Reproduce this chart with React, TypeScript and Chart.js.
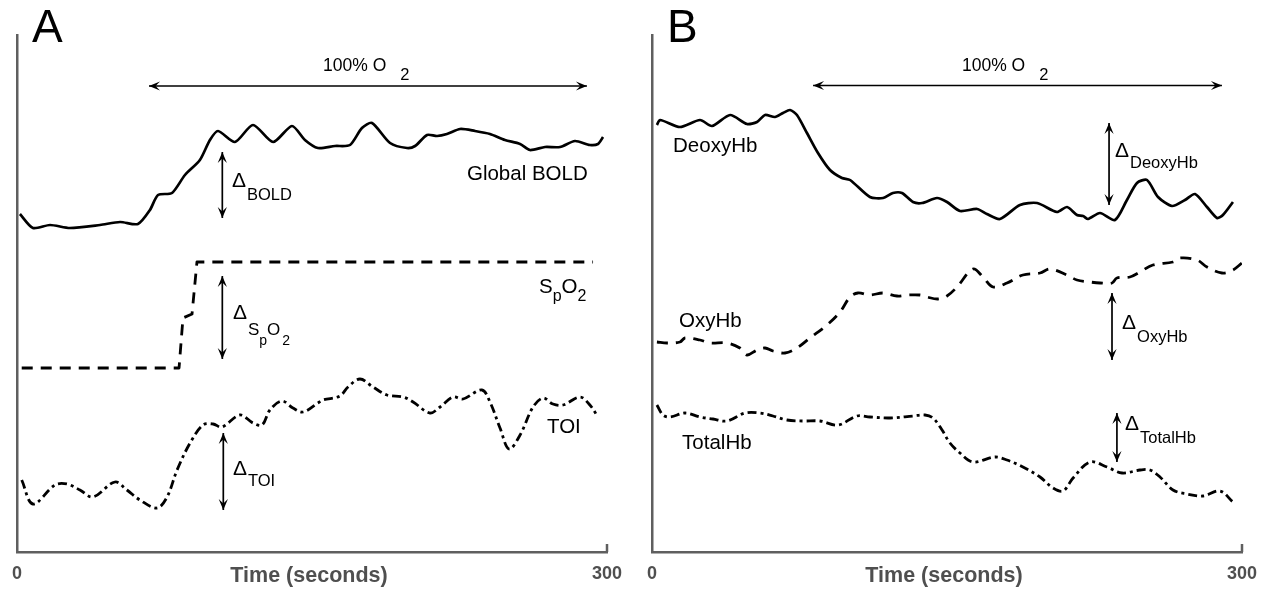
import React, { useEffect, useRef } from "react";
import { Chart, registerables } from "chart.js";

Chart.register(...registerables);

// ---------------- data (time in seconds, signal in arbitrary units) ----------------
const xTicks = [0, 300];

// Panel A
const boldT = [1.5, 8.1, 16.8, 26.9, 42.2, 52.4, 61.5, 67.6, 71.7, 78.8, 85.4, 93.0, 98.1, 102.2, 110.8, 120.0, 130.2, 139.8, 146.4, 153.0, 161.7, 169.3, 175.4, 180.5, 189.7, 198.3, 202.4, 208.5, 213.6, 218.6, 225.3, 232.9, 240.5, 248.1, 255.8, 260.8, 268.5, 276.1, 283.7, 291.3, 295.4, 298.0];
const boldV = [338, 324, 327, 324, 327, 330, 328, 342, 357, 359, 377, 392, 412, 421, 410, 427, 410, 426, 412, 404, 406, 407, 424, 429, 409, 404, 406, 417, 416, 418, 423, 421, 418, 412, 408, 402, 405, 405, 411, 407, 408, 415];

const spo2T = [2.4, 82.4, 84.4, 89.0, 91.5, 292.9];
const spo2V = [184, 184, 234, 238, 290, 290];

const toiT = [2.4, 8.1, 19.3, 25.4, 32.0, 38.6, 49.8, 55.9, 62.5, 71.2, 76.3, 81.4, 88.0, 94.6, 99.7, 104.2, 113.4, 120.0, 124.6, 128.6, 134.7, 140.3, 145.4, 153.0, 155.6, 164.2, 168.3, 174.4, 181.0, 188.1, 196.3, 201.4, 210.0, 215.1, 221.7, 226.8, 236.4, 240.5, 245.6, 250.2, 255.8, 262.4, 267.5, 272.5, 277.6, 286.3, 291.3, 295.4];
const toiV = [72, 48, 67, 68, 62, 55, 70, 62, 52, 44, 55, 82, 109, 127, 128, 125, 137, 129, 127, 142, 151, 144, 140, 149, 152, 156, 165, 173, 165, 157, 155, 150, 139, 145, 155, 153, 162, 150, 124, 103, 117, 145, 154, 148, 147, 155, 147, 135];

// Panel B
const deoxyT = [2.5, 4.1, 14.2, 24.4, 30.5, 39.7, 48.3, 53.4, 57.5, 62.5, 66.6, 70.2, 73.7, 78.8, 84.4, 90.5, 96.6, 100.7, 110.8, 117.5, 122.5, 127.1, 132.7, 137.3, 144.9, 150.0, 156.6, 165.3, 170.3, 176.9, 187.1, 195.8, 205.9, 211.0, 216.1, 219.2, 221.7, 227.8, 235.4, 241.5, 246.6, 251.7, 257.3, 264.4, 271.0, 276.1, 282.2, 287.3, 290.3, 295.4];
const deoxyV = [427, 432, 425, 432, 426, 437, 428, 430, 437, 435, 439, 442, 437, 419, 399, 382, 374, 372, 355, 354, 359, 359, 350, 349, 354, 350, 341, 343, 338, 333, 347, 349, 340, 345, 337, 336, 333, 339, 332, 352, 369, 372, 355, 346, 352, 358, 345, 334, 337, 350];

const oxyT = [2.5, 7.6, 14.2, 16.8, 24.4, 29.5, 38.1, 44.7, 48.3, 53.4, 57.5, 61.5, 67.6, 73.7, 80.3, 89.0, 95.6, 100.7, 104.7, 110.8, 117.5, 124.6, 130.2, 136.3, 139.8, 145.4, 150.0, 155.1, 163.2, 168.3, 173.4, 180.5, 188.6, 197.3, 202.4, 211.0, 216.1, 222.7, 227.8, 233.9, 236.4, 243.0, 248.1, 254.7, 264.9, 268.5, 277.1, 282.2, 289.8, 295.4, 300];
const oxyV = [210, 209, 210, 214, 212, 209, 209, 204, 197, 202, 204, 201, 199, 204, 214, 227, 240, 255, 259, 257, 259, 256, 257, 257, 255, 253, 256, 265, 283, 275, 265, 269, 277, 279, 283, 277, 272, 270, 269, 269, 274, 275, 280, 287, 290, 294, 292, 285, 279, 282, 289];

const totalT = [2.5, 5.6, 9.2, 16.8, 24.4, 31.0, 38.1, 47.3, 54.9, 61.5, 68.6, 76.8, 85.4, 94.6, 104.2, 110.8, 121.0, 132.7, 138.8, 142.9, 147.5, 151.5, 156.6, 163.2, 174.4, 180.5, 188.6, 197.3, 203.9, 209.0, 214.1, 222.7, 231.4, 239.0, 248.1, 253.2, 258.3, 264.9, 272.0, 280.2, 288.8, 295.4];
const totalV = [147, 137, 135, 139, 135, 133, 131, 139, 139, 136, 132, 131, 131, 127, 136, 135, 134, 136, 137, 134, 122, 109, 99, 90, 95, 92, 85, 75, 64, 61, 74, 90, 85, 79, 82, 82, 75, 62, 58, 56, 61, 50];

// ---------------- styling ----------------
const FONT = '"Liberation Sans", Arial, Helvetica, sans-serif';
const AXIS_GREY = "#5f5f5f";
const LABEL_GREY = "#4f4f4f";
const DASH = [11, 8];
const DASH_DOT = [9, 4, 3, 4];

type Seg = { s: string; size: number; dy?: number; gap?: number };
type TextNote = { x: number; y: number; segs: Seg[] };
type ArrowNote = { x1: number; y1: number; x2: number; y2: number; lw: number };

const O2_SEGS: Seg[] = [
  { s: "100% O", size: 17.5 },
  { s: "2", size: 16.5, dy: 9, gap: 14 },
];

const arrowsA: ArrowNote[] = [
  { x1: 67.1, y1: 466, x2: 289.8, y2: 466, lw: 1.4 },
  { x1: 104.4, y1: 400, x2: 104.4, y2: 334, lw: 1.7 },
  { x1: 104.4, y1: 276, x2: 104.4, y2: 193, lw: 1.7 },
  { x1: 104.9, y1: 119, x2: 104.9, y2: 42, lw: 1.7 },
];
const notesA: TextNote[] = [
  { x: 155.6, y: 481, segs: O2_SEGS },
  { x: 228.8, y: 372, segs: [{ s: "Global BOLD", size: 20.5 }] },
  {
    x: 265.4,
    y: 259,
    segs: [
      { s: "S", size: 20.5 },
      { s: "p", size: 16, dy: 8 },
      { s: "O", size: 20.5 },
      { s: "2", size: 16, dy: 8 },
    ],
  },
  { x: 269.5, y: 119, segs: [{ s: "TOI", size: 20.5 }] },
  { x: 109.3, y: 365, segs: [{ s: "Δ", size: 21 }, { s: "BOLD", size: 16.5, dy: 13, gap: 1 }] },
  {
    x: 109.8,
    y: 233,
    segs: [
      { s: "Δ", size: 21 },
      { s: "S", size: 17, dy: 16, gap: 1 },
      { s: "p", size: 14, dy: 26 },
      { s: "O", size: 17, dy: 16 },
      { s: "2", size: 14, dy: 26, gap: 2 },
    ],
  },
  { x: 109.8, y: 77, segs: [{ s: "Δ", size: 21 }, { s: "TOI", size: 16.5, dy: 11, gap: 1 }] },
];

const arrowsB: ArrowNote[] = [
  { x1: 81.9, y1: 466.5, x2: 289.8, y2: 466.5, lw: 1.4 },
  { x1: 232.4, y1: 429, x2: 232.4, y2: 347, lw: 1.7 },
  { x1: 233.9, y1: 259, x2: 233.9, y2: 192, lw: 1.7 },
  { x1: 236.4, y1: 139, x2: 236.4, y2: 90, lw: 1.7 },
];
const notesB: TextNote[] = [
  { x: 157.6, y: 481, segs: O2_SEGS },
  { x: 10.7, y: 400, segs: [{ s: "DeoxyHb", size: 20.5 }] },
  { x: 13.7, y: 225, segs: [{ s: "OxyHb", size: 20.5 }] },
  { x: 15.3, y: 103, segs: [{ s: "TotalHb", size: 20.5 }] },
  { x: 235.4, y: 395, segs: [{ s: "Δ", size: 21 }, { s: "DeoxyHb", size: 16.5, dy: 11, gap: 1 }] },
  { x: 239.0, y: 223, segs: [{ s: "Δ", size: 21 }, { s: "OxyHb", size: 16.5, dy: 13, gap: 1 }] },
  { x: 240.5, y: 122, segs: [{ s: "Δ", size: 21 }, { s: "TotalHb", size: 16.5, dy: 13, gap: 1 }] },
];

function drawArrow(ctx: CanvasRenderingContext2D, ax: number, ay: number, bx: number, by: number, lw: number) {
  ctx.lineWidth = lw;
  ctx.setLineDash([]);
  ctx.beginPath();
  ctx.moveTo(ax, ay);
  ctx.lineTo(bx, by);
  ctx.stroke();
  const head = (tx: number, ty: number, fx: number, fy: number) => {
    const ang = Math.atan2(ty - fy, tx - fx);
    const c = Math.cos(ang);
    const s = Math.sin(ang);
    const L = 11;
    const W = 4.6;
    ctx.beginPath();
    ctx.moveTo(tx, ty);
    ctx.lineTo(tx - L * c + W * s, ty - L * s - W * c);
    ctx.lineTo(tx - 0.6 * L * c, ty - 0.6 * L * s);
    ctx.lineTo(tx - L * c - W * s, ty - L * s + W * c);
    ctx.closePath();
    ctx.fill();
  };
  head(ax, ay, bx, by);
  head(bx, by, ax, ay);
}

function makeOverlay(letter: string, arrows: ArrowNote[], notes: TextNote[], title: string) {
  return {
    id: "overlay" + letter,
    afterDraw(chart: any) {
      const { ctx, chartArea } = chart;
      const xs = chart.scales.x;
      const ys = chart.scales.y;
      ctx.save();
      // inward end tick on the time axis
      const xe = xs.getPixelForValue(xTicks[xTicks.length - 1]);
      ctx.strokeStyle = AXIS_GREY;
      ctx.lineWidth = 2.5;
      ctx.beginPath();
      ctx.moveTo(xe, chartArea.bottom);
      ctx.lineTo(xe, chartArea.bottom - 8);
      ctx.stroke();
      // axis title
      ctx.fillStyle = LABEL_GREY;
      ctx.font = `bold 21.5px ${FONT}`;
      ctx.textAlign = "center";
      ctx.textBaseline = "alphabetic";
      ctx.fillText(title, (chartArea.left + chartArea.right) / 2 - 3, chartArea.bottom + 29.5);
      // panel letter
      ctx.fillStyle = "#000";
      ctx.textAlign = "left";
      ctx.font = `46px ${FONT}`;
      ctx.fillText(letter, chartArea.left + 15, 42);
      // arrows
      ctx.strokeStyle = "#000";
      ctx.fillStyle = "#000";
      for (const a of arrows) {
        drawArrow(
          ctx,
          xs.getPixelForValue(a.x1),
          ys.getPixelForValue(a.y1),
          xs.getPixelForValue(a.x2),
          ys.getPixelForValue(a.y2),
          a.lw
        );
      }
      // text notes
      for (const n of notes) {
        let cx = xs.getPixelForValue(n.x);
        const by = ys.getPixelForValue(n.y);
        for (const g of n.segs) {
          cx += g.gap ?? 0;
          ctx.font = `${g.size}px ${FONT}`;
          ctx.fillText(g.s, cx, by + (g.dy ?? 0));
          cx += ctx.measureText(g.s).width;
        }
      }
      ctx.restore();
    },
  };
}

function series(t: number[], v: number[], dash: number[], width: number, tension: number) {
  return {
    data: t.map((x, i) => ({ x, y: v[i] })),
    borderColor: "#000",
    backgroundColor: "#000",
    borderWidth: width,
    borderDash: dash,
    borderCapStyle: "butt",
    borderJoinStyle: "round",
    pointRadius: 0,
    tension,
    fill: false,
  };
}

function makeConfig(datasets: any[], padLeft: number, padRight: number, overlay: any) {
  return {
    type: "line",
    data: { datasets },
    options: {
      animation: false,
      responsive: false,
      maintainAspectRatio: false,
      events: [],
      layout: { padding: { left: padLeft, right: padRight, top: 35, bottom: 0 } },
      plugins: { legend: { display: false }, tooltip: { enabled: false }, title: { display: false } },
      scales: {
        x: {
          type: "linear",
          min: 0,
          max: 300,
          grid: { display: false, drawTicks: false },
          border: { display: true, color: AXIS_GREY, width: 2.5 },
          ticks: {
            font: { family: FONT, size: 18, weight: "bold" },
            color: LABEL_GREY,
            padding: 11,
            maxRotation: 0,
            autoSkip: false,
          },
          afterBuildTicks: (s: any) => {
            s.ticks = xTicks.map((v) => ({ value: v }));
          },
          afterFit: (s: any) => {
            s.height = 40;
          },
        },
        y: {
          type: "linear",
          min: 0,
          max: 517,
          grid: { display: false, drawTicks: false },
          border: { display: true, color: AXIS_GREY, width: 2.5 },
          ticks: { display: false },
          afterFit: (s: any) => {
            s.width = 0;
          },
        },
      },
    },
    plugins: [overlay],
  };
}

export default function App() {
  const refA = useRef<HTMLCanvasElement>(null);
  const refB = useRef<HTMLCanvasElement>(null);

  useEffect(() => {
    Chart.defaults.font.family = FONT;
    const cfgA = makeConfig(
      [
        series(boldT, boldV, [], 2.7, 0.25),
        series(spo2T, spo2V, DASH, 2.8, 0),
        series(toiT, toiV, DASH_DOT, 2.8, 0.35),
      ],
      17,
      27,
      makeOverlay("A", arrowsA, notesA, "Time (seconds)")
    );
    const cfgB = makeConfig(
      [
        series(deoxyT, deoxyV, [], 2.7, 0.25),
        series(oxyT, oxyV, DASH, 2.8, 0.35),
        series(totalT, totalV, DASH_DOT, 2.8, 0.35),
      ],
      18,
      27,
      makeOverlay("B", arrowsB, notesB, "Time (seconds)")
    );
    const a = new Chart(refA.current as HTMLCanvasElement, cfgA as any);
    const b = new Chart(refB.current as HTMLCanvasElement, cfgB as any);
    return () => {
      a.destroy();
      b.destroy();
    };
  }, []);

  return (
    <div style={{ position: "absolute", left: 0, top: 0, width: 1269, height: 592, background: "#fff", overflow: "hidden" }}>
      <canvas ref={refA} width={634} height={592} style={{ position: "absolute", left: 0, top: 0, width: 634, height: 592 }} />
      <canvas ref={refB} width={635} height={592} style={{ position: "absolute", left: 634, top: 0, width: 635, height: 592 }} />
    </div>
  );
}
